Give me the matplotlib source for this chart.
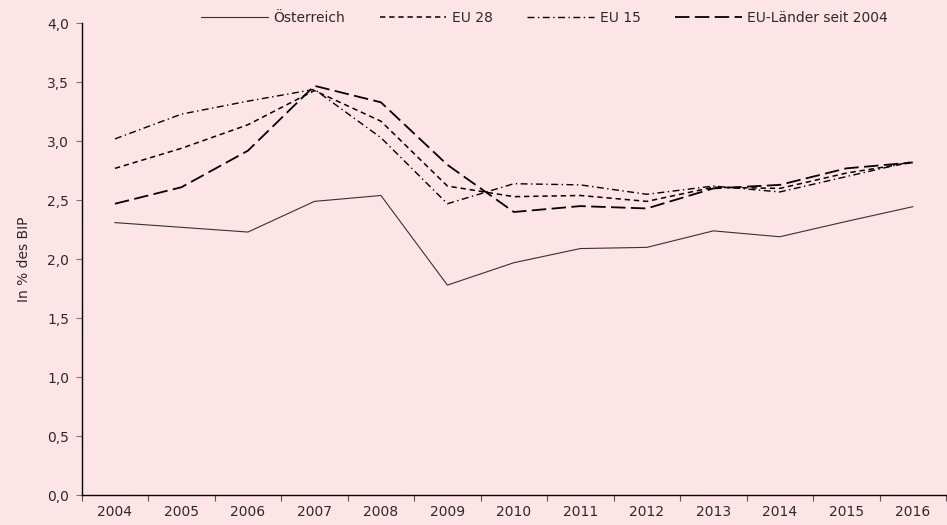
import numpy as np
import matplotlib
matplotlib.use("Agg")
import matplotlib.pyplot as plt
from matplotlib.ticker import FixedLocator, FuncFormatter

# Data
years = [2004, 2005, 2006, 2007, 2008, 2009, 2010, 2011, 2012, 2013, 2014, 2015, 2016]
oesterreich = [2.31, 2.27, 2.23, 2.49, 2.54, 1.78, 1.97, 2.09, 2.10, 2.24, 2.19, 2.32, 2.445]
eu28 = [2.77, 2.94, 3.14, 3.43, 3.17, 2.62, 2.53, 2.54, 2.49, 2.61, 2.60, 2.73, 2.82]
eu15 = [3.02, 3.23, 3.34, 3.44, 3.03, 2.47, 2.64, 2.63, 2.55, 2.62, 2.57, 2.70, 2.83]
eu_seit2004 = [2.47, 2.61, 2.92, 3.47, 3.33, 2.80, 2.40, 2.45, 2.43, 2.60, 2.63, 2.77, 2.82]

bg = "#fde4e6"
txt = "#2b2b2b"

plt.rcParams['font.family'] = ['DejaVu Sans']

fig = plt.figure(figsize=(9.47, 5.25), dpi=100, facecolor=bg)
ax = fig.add_axes([0.0863, 0.0571, 0.9127, 0.8985], facecolor=bg)

x = np.arange(len(years))
ax.plot(x, oesterreich, color="#333333", lw=0.8, linestyle="-", label="Österreich")
ax.plot(x, eu28, color="black", lw=1.1, linestyle=(0, (3.5, 2.5)), label="EU 28")
ax.plot(x, eu15, color="black", lw=1.0, linestyle=(0, (5, 2.5, 1, 2.5)), label="EU 15")
ax.plot(x, eu_seit2004, color="black", lw=1.3, linestyle=(0, (8, 3)), label="EU-Länder seit 2004")

ax.set_xlim(-0.5, len(years) - 0.5)
ax.set_ylim(0, 4.0)

# category axis: ticks between categories, labels centered
ax.xaxis.set_major_locator(FixedLocator(np.arange(-0.5, len(years), 1.0)))
ax.xaxis.set_major_formatter(FuncFormatter(lambda v, p: ""))
ax.xaxis.set_minor_locator(FixedLocator(x))
ax.set_xticklabels([str(y) for y in years], minor=True)
ax.tick_params(axis="x", which="minor", length=0, pad=7, labelsize=10, labelcolor=txt)
ax.tick_params(axis="x", which="major", length=4, width=0.8, color="#555555")

ax.set_yticks(np.arange(0, 4.01, 0.5))
ax.yaxis.set_major_formatter(FuncFormatter(lambda v, p: f"{v:.1f}".replace(".", ",")))
ax.tick_params(axis="y", length=4, width=0.8, color="#777777", labelsize=10, labelcolor=txt, pad=5)

for s in ["top", "right"]:
    ax.spines[s].set_visible(False)
for s in ["left", "bottom"]:
    ax.spines[s].set_color("black")
    ax.spines[s].set_linewidth(1.0)

ax.set_ylabel("In % des BIP", fontsize=10, color=txt, labelpad=12)

leg = fig.legend(loc="center", bbox_to_anchor=(0.575, 0.966), ncol=4, frameon=False,
                 fontsize=10, handlelength=4.8, columnspacing=2.5, handletextpad=0.4,
                 labelcolor=txt)

fig.savefig("out.png", dpi=100, facecolor=bg)
